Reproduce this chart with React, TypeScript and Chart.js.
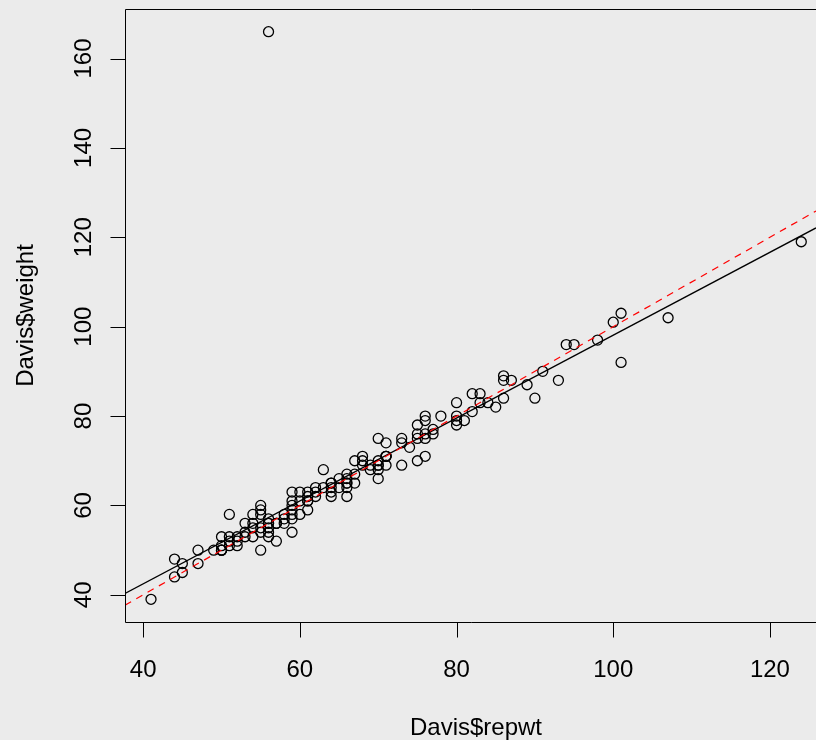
import React, { useEffect, useRef } from "react";
import { Chart, registerables } from "chart.js";

Chart.register(...registerables);

const repwt = [
  77, 51, 54, 70, 59, 76, 77, 73, 71, 64, 75, 56, 52, 64, 57, 66, 101, 62, 75, 61,
  124, 61, 66, 70, 59, 50, 61, 60, 41, 100, 71, 73, 76, 52, 63, 65, 54, 69, 86, 67,
  53, 80, 59, 80, 82, 55, 56, 75, 57, 73, 107, 64, 65, 74, 70, 58, 69, 71, 76, 75,
  98, 59, 63, 62, 51, 76, 61, 66, 54, 57, 50, 55, 64, 70, 70, 60, 56, 52, 55, 56,
  61, 66, 53, 59, 56, 68, 56, 86, 71, 87, 57, 101, 50,
  44, 44, 45, 45, 47, 47, 49, 50, 50, 51, 51, 53, 54, 55, 55, 55, 56, 58, 58, 59,
  59, 60, 62, 64, 66, 66, 67, 67, 68, 68, 70, 71, 76, 78, 80, 80, 81, 82, 83, 83,
  84, 85, 86, 89, 90, 91, 93, 94, 95,
];
const weight = [
  77, 58, 53, 68, 59, 76, 76, 69, 71, 65, 70, 166, 51, 64, 52, 65, 92, 62, 76, 61,
  119, 61, 65, 66, 54, 50, 63, 58, 39, 101, 71, 75, 79, 52, 68, 64, 56, 69, 88, 65,
  54, 80, 63, 78, 85, 54, 54, 75, 56, 74, 102, 65, 66, 73, 75, 57, 68, 71, 71, 78,
  97, 60, 64, 64, 52, 80, 62, 66, 55, 56, 50, 50, 63, 69, 69, 61, 55, 53, 60, 56,
  59, 62, 53, 57, 57, 70, 56, 84, 69, 88, 56, 103, 50,
  48, 44, 47, 45, 50, 47, 50, 51, 53, 53, 51, 56, 58, 59, 58, 55, 53, 56, 58, 58,
  61, 63, 63, 62, 64, 67, 67, 70, 71, 69, 70, 74, 75, 80, 83, 79, 79, 81, 83, 85,
  83, 82, 89, 87, 84, 90, 88, 96, 96,
];

// Axis ticks
const xTicks = [40, 60, 80, 100, 120];
const yTicks = [40, 60, 80, 100, 120, 140, 160];

// Visible axis ranges
const xRange = [37.68, 125.88];
const yRange = [33.92, 171.08];

// Fitted regression line (solid black) and identity line (dashed red), endpoints
const lineX = [37.68, 125.88];
const fitY = [40.3, 122.1];
const identityY = [37.68, 125.88];

const xLabel = "Davis$repwt";
const yLabel = "Davis$weight";

const FONT = '24px "Liberation Sans", Arial, Helvetica, sans-serif';

const rBasePlugin = {
  id: "rBase",
  beforeDraw(chart: any) {
    const ctx = chart.ctx;
    ctx.save();
    ctx.fillStyle = "#EBEBEB";
    ctx.fillRect(0, 0, chart.width, chart.height);
    ctx.restore();
  },
  afterDraw(chart: any) {
    const { ctx, chartArea: a, scales } = chart;
    const xs = scales.x;
    const ys = scales.y;
    ctx.save();
    ctx.strokeStyle = "#000";
    ctx.lineWidth = 1;
    const L = Math.round(a.left) + 0.5;
    const T = Math.round(a.top) + 0.5;
    const B = Math.round(a.bottom) + 0.5;
    ctx.beginPath();
    ctx.moveTo(a.right + 2, T);
    ctx.lineTo(L, T);
    ctx.lineTo(L, B);
    ctx.lineTo(a.right + 2, B);
    ctx.stroke();

    ctx.beginPath();
    xTicks.forEach((v) => {
      const px = Math.round(xs.getPixelForValue(v)) + 0.5;
      ctx.moveTo(px, B);
      ctx.lineTo(px, B + 15);
    });
    yTicks.forEach((v) => {
      const py = Math.round(ys.getPixelForValue(v)) + 0.5;
      ctx.moveTo(L, py);
      ctx.lineTo(L - 15, py);
    });
    ctx.stroke();

    ctx.fillStyle = "#000";
    ctx.font = FONT;
    ctx.textAlign = "center";
    ctx.textBaseline = "alphabetic";
    xTicks.forEach((v) => ctx.fillText(String(v), xs.getPixelForValue(v), 677));
    yTicks.forEach((v) => {
      ctx.save();
      ctx.translate(91, ys.getPixelForValue(v));
      ctx.rotate(-Math.PI / 2);
      ctx.fillText(String(v), 0, 0);
      ctx.restore();
    });
    ctx.fillText(xLabel, 476, 735);
    ctx.save();
    ctx.translate(33, (a.top + a.bottom) / 2);
    ctx.rotate(-Math.PI / 2);
    ctx.fillText(yLabel, 0, 0);
    ctx.restore();
    ctx.restore();
  },
};

export default function App() {
  const ref = useRef<HTMLCanvasElement | null>(null);

  useEffect(() => {
    if (!ref.current) return;
    const points = repwt.map((x, i) => ({ x, y: weight[i] }));
    const chart = new Chart(ref.current, {
      type: "scatter",
      data: {
        datasets: [
          {
            type: "line",
            data: lineX.map((x, i) => ({ x, y: identityY[i] })),
            borderColor: "#FF0000",
            borderWidth: 1.2,
            borderDash: [7, 6],
            pointRadius: 0,
            fill: false,
          } as any,
          {
            type: "line",
            data: lineX.map((x, i) => ({ x, y: fitY[i] })),
            borderColor: "#000000",
            borderWidth: 1.3,
            pointRadius: 0,
            fill: false,
          } as any,
          {
            type: "scatter",
            data: points,
            pointStyle: "circle",
            pointRadius: 5,
            pointBorderWidth: 1.3,
            pointBorderColor: "#000000",
            pointBackgroundColor: "rgba(0,0,0,0)",
            borderColor: "#000000",
            backgroundColor: "rgba(0,0,0,0)",
          } as any,
        ],
      },
      options: {
        responsive: false,
        animation: false,
        devicePixelRatio: 1,
        events: [],
        layout: { autoPadding: false, padding: { top: 9, left: 0, right: 0, bottom: 0 } },
        plugins: {
          legend: { display: false },
          tooltip: { enabled: false },
        },
        scales: {
          x: {
            type: "linear",
            min: xRange[0],
            max: xRange[1],
            bounds: "data",
            ticks: { display: false },
            grid: { display: false },
            border: { display: false },
            afterFit: (s: any) => {
              s.height = 118;
            },
          },
          y: {
            type: "linear",
            min: yRange[0],
            max: yRange[1],
            bounds: "data",
            ticks: { display: false },
            grid: { display: false },
            border: { display: false },
            afterFit: (s: any) => {
              s.width = 125;
            },
          },
        },
      } as any,
      plugins: [rBasePlugin],
    });
    return () => chart.destroy();
  }, []);

  return (
    <div style={{ position: "fixed", left: 0, top: 0, width: 816, height: 740 }}>
      <canvas ref={ref} width={816} height={740} style={{ display: "block", width: 816, height: 740 }} />
    </div>
  );
}
